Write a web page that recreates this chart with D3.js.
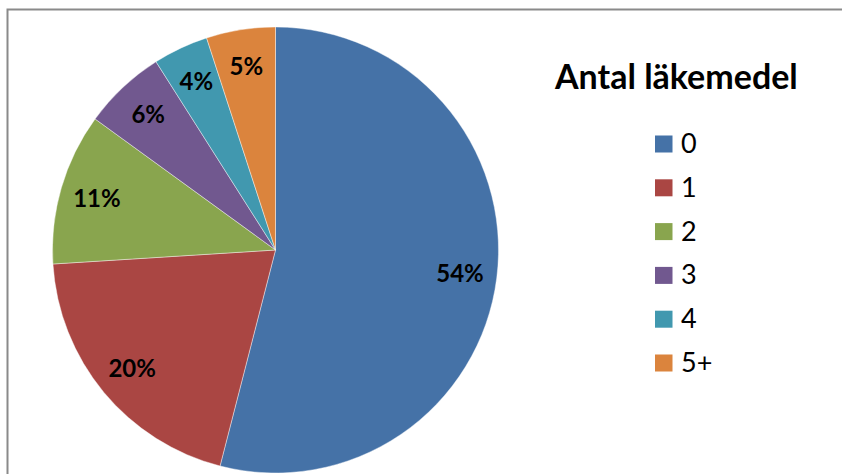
<!DOCTYPE html>
<html>
<head>
<meta charset="utf-8">
<script src="https://cdn.jsdelivr.net/npm/d3@7"></script>
<style>
  html, body { margin: 0; padding: 0; background: #fff; }
  svg { display: block; font-family: Lato, "Open Sans", sans-serif; }
</style>
</head>
<body>
<svg id="chart" width="842" height="474"></svg>
<script>
// Number of medicines per person, share in percent
const categories = ["0", "1", "2", "3", "4", "5+"];
const shares = [54, 20, 11, 6, 4, 5];
const colors = ["#4572A7", "#AA4643", "#89A54E", "#71588F", "#4198AF", "#DB843D"];
const legendTitle = "Antal läkemedel";

const svg = d3.select("#chart");
const W = 842, H = 474;

// Chart frame (continues past the right and bottom edges)
svg.append("rect")
  .attr("x", 7.5).attr("y", 9.5)
  .attr("width", W + 20).attr("height", H + 20)
  .attr("fill", "#fff")
  .attr("stroke", "#8a8a8a")
  .attr("stroke-width", 2);

const cx = 275.5, cy = 250, r = 223;

const color = d3.scaleOrdinal().domain(categories).range(colors);

const pie = d3.pie().sort(null).value(d => d.value);
const data = categories.map((c, i) => ({ cat: c, value: shares[i] }));
const arcs = pie(data);

const arc = d3.arc().innerRadius(0).outerRadius(r);
const labelArc = d3.arc().innerRadius(186).outerRadius(186);

const g = svg.append("g").attr("transform", `translate(${cx},${cy})`);

g.selectAll("path.slice")
  .data(arcs)
  .join("path")
  .attr("class", "slice")
  .attr("d", arc)
  .attr("fill", d => color(d.data.cat))
  .attr("stroke", "#ffffff")
  .attr("stroke-opacity", 0.6)
  .attr("stroke-width", 0.7);

g.selectAll("text.pct")
  .data(arcs)
  .join("text")
  .attr("class", "pct")
  .attr("transform", d => `translate(${labelArc.centroid(d)})`)
  .attr("text-anchor", "middle")
  .attr("dy", "0.36em")
  .attr("font-size", 24)
  .attr("font-weight", 700)
  .attr("fill", "#000")
  .text(d => d3.format(".0f")(d.data.value) + "%");

// Legend
const legend = svg.append("g");

legend.append("text")
  .attr("x", 555).attr("y", 89)
  .attr("font-size", 34)
  .attr("font-weight", 700)
  .attr("fill", "#000")
  .text(legendTitle);

const rowY = d3.scalePoint().domain(categories).range([144, 363]);

const items = legend.selectAll("g.item")
  .data(categories)
  .join("g")
  .attr("class", "item")
  .attr("transform", d => `translate(655,${rowY(d)})`);

items.append("rect")
  .attr("x", 0).attr("y", -8.5)
  .attr("width", 17.5).attr("height", 17)
  .attr("fill", d => color(d));

items.append("text")
  .attr("x", 26).attr("y", 9)
  .attr("font-size", 27)
  .attr("fill", "#000")
  .text(d => d);
</script>
</body>
</html>
